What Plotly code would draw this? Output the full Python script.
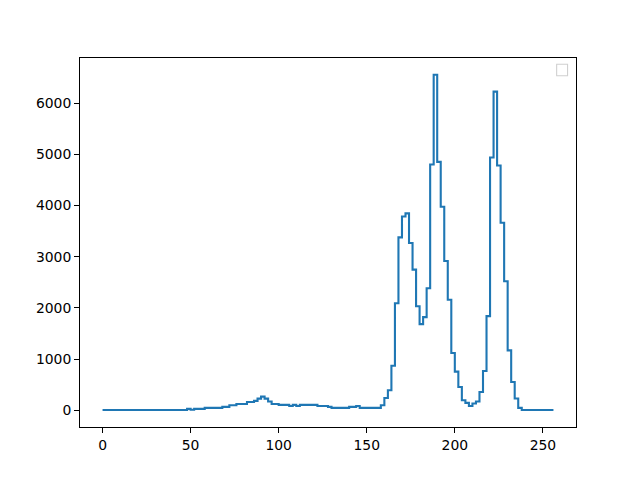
import plotly.graph_objects as go

# Histogram counts, 128 bins of width 2 over [0, 256)
bin_edges = list(range(0, 258, 2))
counts = [
    3, 3, 3, 3, 3, 3, 3, 3, 3, 3,            # 0-18
    3, 3, 3, 3, 3, 3, 3, 3, 3, 3,            # 20-38
    3, 3, 3, 3, 26, 8, 26, 26, 26, 45,       # 40-58
    45, 45, 45, 45, 65, 65, 97, 97, 123, 123,  # 60-78
    123, 162, 162, 182, 227, 266, 227, 169, 123, 123,  # 80-98
    104, 104, 104, 84, 104, 84, 104, 104, 104, 104,  # 100-118
    104, 84, 84, 84, 65, 45, 45, 45, 45, 45,  # 120-138
    65, 65, 84, 45, 45, 45, 45, 45, 45, 97,   # 140-158
    240, 390, 870, 2090, 3376, 3785, 3844, 3267, 2747, 2032,  # 160-178
    1682, 1818, 2383, 4799, 6552, 4851, 3974, 2916, 2157, 1117,  # 180-198
    754, 454, 195, 143, 84, 130, 170, 357, 766, 1838,  # 200-218
    4935, 6222, 4780, 3663, 2520, 1169, 552, 228, 45, 3,  # 220-238
    3, 3, 3, 3, 3, 3, 3, 3,                   # 240-254
]
x_ticks = [0, 50, 100, 150, 200, 250]
y_ticks = [0, 1000, 2000, 3000, 4000, 5000, 6000]

ys = counts + [counts[-1]]

fig = go.Figure()
fig.add_trace(go.Scatter(
    x=bin_edges, y=ys, mode="lines", line_shape="hv",
    line=dict(color="#1f77b4", width=2.1), showlegend=False,
))

ymax = max(counts)
axis_common = dict(
    showline=True, linecolor="black", linewidth=1.1, mirror=True,
    ticks="outside", ticklen=4.9, tickwidth=1.1, tickcolor="black",
    showgrid=False, zeroline=False,
    tickfont=dict(family="DejaVu Sans", size=13.9, color="black"),
)
fig.update_xaxes(range=[-12.8, 268.8], tickvals=x_ticks, **axis_common)
fig.update_yaxes(range=[-0.05 * ymax, 1.05 * ymax], tickvals=y_ticks, **axis_common)

# empty legend box (upper right)
fig.add_shape(type="rect", xref="paper", yref="paper",
              x0=0.961, x1=0.983, y0=0.952, y1=0.983,
              line=dict(color="#d0d0d0", width=1.1), fillcolor="white")

fig.update_layout(
    width=632, height=472,
    margin=dict(l=72, r=64, t=50, b=53),
    plot_bgcolor="white", paper_bgcolor="white",
    font=dict(family="DejaVu Sans", size=13.9, color="black"),
)
fig.write_html("out.html")
